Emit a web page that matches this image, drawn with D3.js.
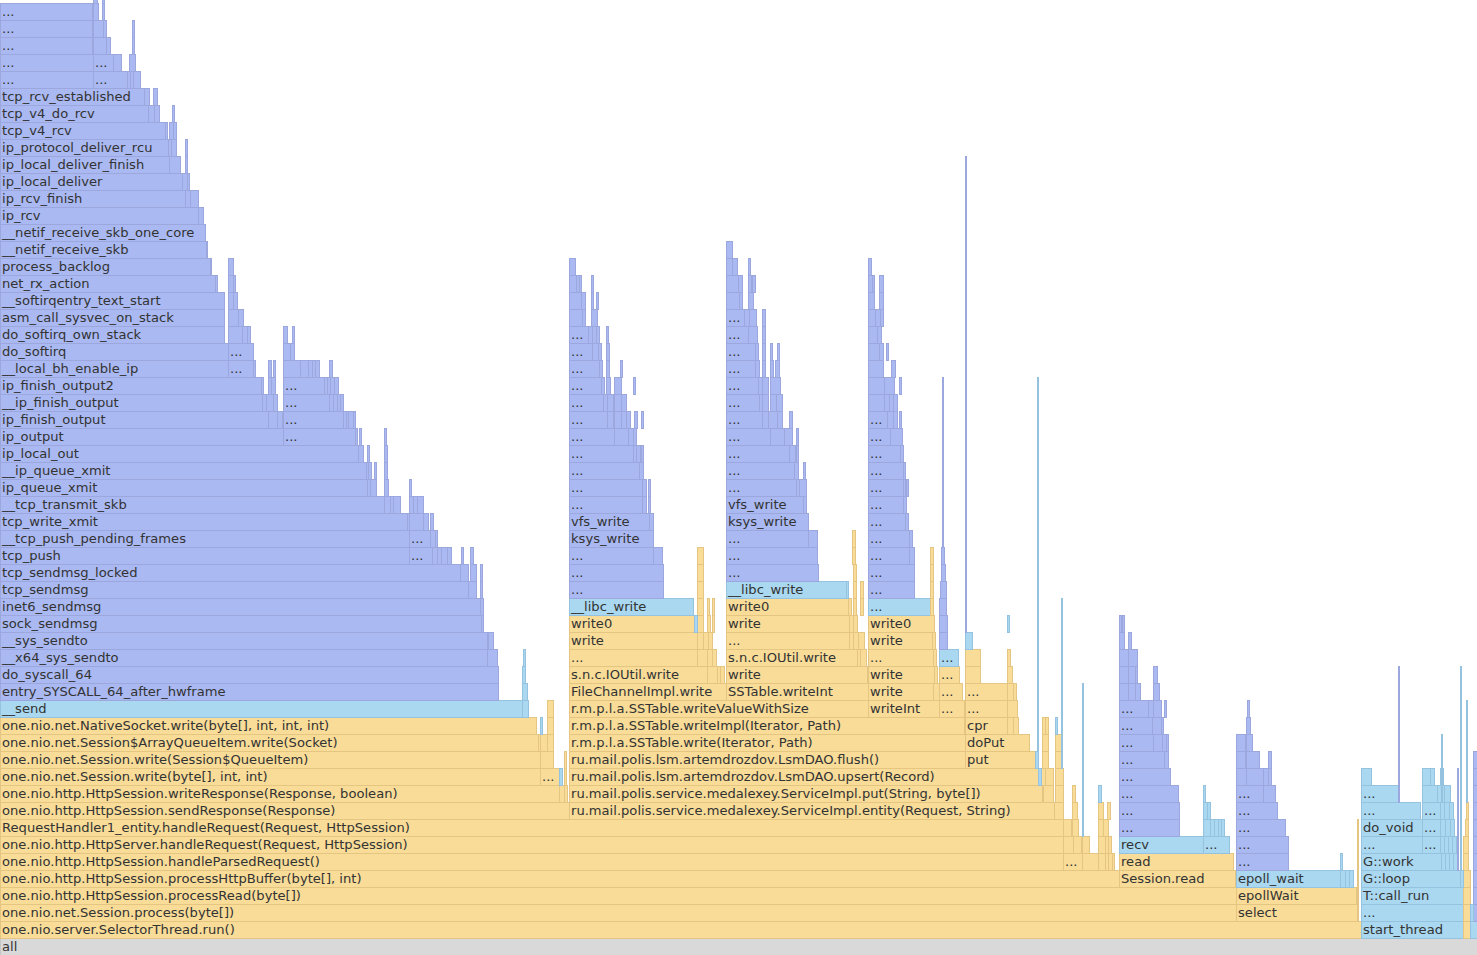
<!DOCTYPE html>
<html><head><meta charset="utf-8">
<script src="https://cdn.jsdelivr.net/npm/d3@7"></script>
<style>html,body{margin:0;padding:0;background:#fff;overflow:hidden}svg{display:block}</style>
</head><body>
<svg id="fg" width="1477" height="955"></svg>
<script>
// ---- DATA (sample counts; each frame: [level, startSample, samples, name]) ----
const TOTAL_SAMPLES = 1477;

const rootFrames = [[0, 0, 1477, "all"]];

const javaFrames = [
[1,0,1361,"one.nio.server.SelectorThread.run()"],[1,1463,7],
[2,0,1236,"one.nio.net.Session.process(byte[])"],[2,1236,121,"select"],[2,1463,7],
[3,0,1236,"one.nio.http.HttpSession.processRead(byte[])"],[3,1236,120,"epollWait"],[3,1463,7],
[4,0,1119,"one.nio.http.HttpSession.processHttpBuffer(byte[], int)"],[4,1119,116,"Session.read"],[4,1463,7],
[5,0,1063,"one.nio.http.HttpSession.handleParsedRequest()"],[5,1063,19,"..."],[5,1082,16],[5,1098,7],[5,1105,3],[5,1108,4],[5,1112,2],[5,1119,114,"read"],[5,1463,5],
[6,0,1063,"one.nio.http.HttpServer.handleRequest(Request, HttpSession)"],[6,1063,10],[6,1073,8],[6,1082,7],[6,1098,7],[6,1105,3],[6,1108,3],[6,1463,5],
[7,0,1063,"RequestHandler1_entity.handleRequest(Request, HttpSession)"],[7,1063,8],[7,1072,6],[7,1098,5],[7,1103,5],[7,1465,3],
[8,0,569,"one.nio.http.HttpSession.sendResponse(Response)"],[8,569,485,"ru.mail.polis.service.medalexey.ServiceImpl.entity(Request, String)"],[8,1054,9],[8,1072,5],[8,1098,5],[8,1107,3],[8,1466,2],
[9,0,559,"one.nio.http.HttpSession.writeResponse(Response, boolean)"],[9,559,5],[9,564,3],[9,569,473,"ru.mail.polis.service.medalexey.ServiceImpl.put(String, byte[])"],[9,1043,10],[9,1055,8],[9,1072,3],
[10,0,540,"one.nio.net.Session.write(byte[], int, int)"],[10,540,19,"..."],[10,564,2],[10,569,469,"ru.mail.polis.lsm.artemdrozdov.LsmDAO.upsert(Record)"],[10,1041,4],[10,1045,8],[10,1055,8],
[11,0,540,"one.nio.net.Session.write(Session$QueueItem)"],[11,540,13],[11,564,2],[11,569,396,"ru.mail.polis.lsm.artemdrozdov.LsmDAO.flush()"],[11,965,70,"put"],[11,1042,6],[11,1055,7],
[12,0,538,"one.nio.net.Session$ArrayQueueItem.write(Socket)"],[12,538,2],[12,540,7],[12,547,6],[12,569,396,"r.m.p.l.a.SSTable.write(Iterator, Path)"],[12,965,64,"doPut"],[12,1042,6],[12,1055,7],
[13,0,536,"one.nio.net.NativeSocket.write(byte[], int, int, int)"],[13,547,6],[13,569,395,"r.m.p.l.a.SSTable.writeImpl(Iterator, Path)"],[13,965,42,"cpr"],[13,1007,6],[13,1013,5],[13,1042,3],[13,1045,3],
[14,547,6],[14,569,299,"r.m.p.l.a.SSTable.writeValueWithSize"],[14,868,71,"writeInt"],[14,939,25,"..."],[14,965,42,"..."],[14,1007,10],
[15,569,157,"FileChannelImpl.write"],[15,726,142,"SSTable.writeInt"],[15,868,65,"write"],[15,933,6],[15,939,23,"..."],[15,965,42,"..."],[15,1007,6],[15,1013,3],
[16,569,138,"s.n.c.IOUtil.write"],[16,707,10],[16,717,3],[16,720,4],[16,726,141,"write"],[16,868,66,"write"],[16,934,3],[16,939,20,"..."],[16,965,15],[16,1007,5],
[17,569,128,"..."],[17,697,10],[17,707,5],[17,712,4],[17,726,131,"s.n.c.IOUtil.write"],[17,857,3],[17,860,6],[17,868,65,"..."],[17,933,3],[17,965,15],[17,1007,3],
[18,569,128,"write"],[18,697,6],[18,703,5],[18,708,4],[18,726,123,"..."],[18,849,4],[18,853,5],[18,858,6],[18,868,64,"write"],[18,932,3],
[19,569,125,"write0"],[19,697,6],[19,707,3],[19,712,2],[19,726,123,"write"],[19,849,4],[19,853,4],[19,868,66,"write0"],
[20,697,6],[20,707,2],[20,712,2],[20,726,122,"write0"],[20,848,3],[20,853,3],[20,860,3],[20,930,3],
[21,697,6],[21,853,3],[21,860,3],[21,930,3],
[22,697,6],[22,853,3],[22,930,3],
[23,697,6],[23,852,3],[23,930,3],
[24,852,3]
];

const nativeFrames = [
[14,0,522,"__send"],[14,522,6],[15,522,5],[16,522,3],[17,523,2],
[10,559,3],[13,540,2],[19,694,3],
[20,569,124,"__libc_write"],[21,726,120,"__libc_write"],[21,846,2],
[20,868,62,"..."],[17,939,19,"..."],
[18,965,7],[19,1007,2],[10,1038,3],[11,1035,3],[13,1055,2],[9,1098,3],
[6,1119,84,"recv"],[6,1203,26,"..."],[7,1203,7],[7,1210,4],[7,1214,4],[7,1218,3],[7,1221,3],[8,1203,4],[8,1207,3],[9,1203,2],
[4,1236,104,"epoll_wait"],[4,1340,5],[4,1345,4],[4,1349,4],[5,1340,2],
[1,1361,102,"start_thread"],[1,1470,7],
[2,1361,102,"..."],[2,1470,3],
[3,1361,102,"T::call_run"],
[4,1361,99,"G::loop"],[4,1460,3],
[5,1361,80,"G::work"],[5,1441,4],[5,1445,4],[5,1449,4],[5,1453,4],
[6,1361,61,"..."],[6,1422,18,"..."],[6,1440,4],[6,1444,4],[6,1448,4],[6,1452,4],
[7,1361,61,"do_void"],[7,1422,18,"..."],[7,1440,5],[7,1445,5],[7,1450,4],
[8,1361,59,"..."],[8,1422,18,"..."],[8,1440,4],[8,1444,5],[8,1449,4],
[9,1361,37,"..."],[9,1422,15],[9,1437,7],[9,1444,6],
[10,1361,10],[10,1422,8],[10,1430,4],[10,1440,3]
];

const kernelFrames = [
// send path (left tower)
[15,0,498,"entry_SYSCALL_64_after_hwframe"],
[16,0,498,"do_syscall_64"],
[17,0,487,"__x64_sys_sendto"],[17,487,10],
[18,0,487,"__sys_sendto"],[18,488,5],
[19,0,481,"sock_sendmsg"],[19,481,2],
[20,0,480,"inet6_sendmsg"],[20,480,3],
[21,0,468,"tcp_sendmsg"],[21,468,8],[21,480,2],
[22,0,460,"tcp_sendmsg_locked"],[22,460,8],[22,470,6],[22,480,2],
[23,0,409,"tcp_push"],[23,409,23,"..."],[23,432,5],[23,437,4],[23,441,6],[23,447,4],[23,461,2],[23,470,3],
[24,0,409,"__tcp_push_pending_frames"],[24,409,21,"..."],[24,430,5],[24,435,2],
[25,0,407,"tcp_write_xmit"],[25,407,2],[25,409,14],[25,423,5],[25,430,3],
[26,0,384,"__tcp_transmit_skb"],[26,384,6],[26,390,3],[26,393,7],[26,409,4],[26,413,4],[26,417,6],
[27,0,367,"ip_queue_xmit"],[27,367,3],[27,370,6],[27,384,4],[27,409,2],
[28,0,366,"__ip_queue_xmit"],[28,366,2],[28,368,3],[28,374,2],[28,384,3],
[29,0,358,"ip_local_out"],[29,358,5],[29,367,2],[29,384,3],
[30,0,283,"ip_output"],[30,283,72,"..."],[30,355,2],[30,359,2],[30,384,2],
[31,0,268,"ip_finish_output"],[31,268,9],[31,277,5],[31,283,60,"..."],[31,343,3],[31,346,2],[31,348,5],[31,353,2],
[32,0,262,"__ip_finish_output"],[32,262,4],[32,266,7],[32,273,4],[32,283,46,"..."],[32,329,4],[32,333,4],[32,337,3],[32,340,3],
[33,0,261,"ip_finish_output2"],[33,261,2],[33,268,3],[33,271,4],[33,283,41,"..."],[33,324,3],[33,327,3],[33,330,4],[33,334,4],
[34,0,228,"__local_bh_enable_ip"],[34,228,25,"..."],[34,253,2],[34,268,3],[34,273,2],[34,283,17],[34,300,8],[34,308,4],[34,312,3],[34,315,4],[34,329,3],
[35,0,228,"do_softirq"],[35,228,25,"..."],[35,283,7],[35,290,4],
[36,0,224,"do_softirq_own_stack"],[36,228,14],[36,242,5],[36,247,3],[36,283,4],[36,292,2],
[37,0,224,"asm_call_sysvec_on_stack"],[37,228,10],[37,238,5],
[38,0,224,"__softirqentry_text_start"],[38,228,5],[38,233,4],
[39,0,215,"net_rx_action"],[39,215,2],[39,228,5],[39,233,2],
[40,0,210,"process_backlog"],[40,210,1],[40,228,5],
[41,0,206,"__netif_receive_skb"],[41,206,1],
[42,0,205,"__netif_receive_skb_one_core"],
[43,0,198,"ip_rcv"],[43,198,5],
[44,0,185,"ip_rcv_finish"],[44,185,5],[44,190,8],
[45,0,182,"ip_local_deliver"],[45,182,5],[45,187,2],
[46,0,169,"ip_local_deliver_finish"],[46,169,11],[46,185,2],
[47,0,168,"ip_protocol_deliver_rcu"],[47,168,3],[47,171,5],[47,185,2],
[48,0,165,"tcp_v4_rcv"],[48,165,2],[48,169,4],[48,173,3],
[49,0,148,"tcp_v4_do_rcv"],[49,148,6],[49,154,5],[49,172,2],
[50,0,144,"tcp_rcv_established"],[50,144,5],[50,153,4],
[51,0,93,"..."],[51,93,34,"..."],[51,127,3],[51,130,3],[51,133,7],
[52,0,93,"..."],[52,93,20,"..."],[52,113,8],[52,129,6],
[53,0,92,"..."],[53,93,13],[53,106,4],[53,132,2],
[54,0,92,"..."],[54,93,10],[54,103,3],[54,132,2],
[55,0,92,"..."],[55,93,5],[55,102,2],
[56,93,4],[56,102,2],
// FileChannel write tower
[21,569,94,"..."],[22,569,94,"..."],[23,569,84,"..."],[23,653,9],
[24,569,84,"ksys_write"],[25,569,80,"vfs_write"],[25,649,4],
[26,569,73,"..."],[26,642,4],[26,648,2],
[27,569,73,"..."],[27,642,4],[27,648,2],
[28,569,70,"..."],[28,639,4],
[29,569,64,"..."],[29,633,3],[29,636,4],[29,641,2],
[30,569,45,"..."],[30,614,14],[30,628,5],[30,633,3],
[31,569,38,"..."],[31,607,6],[31,614,7],[31,621,5],[31,626,4],[31,634,3],[31,641,2],
[32,569,34,"..."],[32,603,4],[32,607,6],[32,614,7],[32,621,5],
[33,569,32,"..."],[33,601,3],[33,606,4],[33,614,7],[33,633,2],
[34,569,30,"..."],[34,599,3],[34,606,3],[34,620,2],
[35,569,23,"..."],[35,592,6],[35,598,3],[35,606,3],
[36,569,19,"..."],[36,588,4],[36,592,4],[36,596,3],[36,606,2],
[37,569,13],[37,582,3],[37,591,6],
[38,569,12],[38,581,4],[38,591,2],[38,596,2],
[39,569,7],[39,576,3],[39,579,2],[39,591,2],
[40,569,6],
// SSTable.writeInt tower
[22,726,92,"..."],[23,726,91,"..."],[24,726,82,"..."],[24,808,9],
[25,726,82,"ksys_write"],[26,726,77,"vfs_write"],[26,803,3],
[27,726,70,"..."],[27,796,3],[27,799,7],
[28,726,68,"..."],[28,794,4],[28,803,2],
[29,726,63,"..."],[29,789,6],[29,796,2],
[30,726,44,"..."],[30,770,14],[30,784,8],[30,796,2],
[31,726,36,"..."],[31,762,6],[31,768,9],[31,777,5],[31,789,3],
[32,726,33,"..."],[32,759,3],[32,762,6],[32,770,6],[32,776,6],
[33,726,32,"..."],[33,758,4],[33,762,6],[33,770,10],
[34,726,29,"..."],[34,755,4],[34,762,3],[34,770,3],[34,775,4],
[35,726,29,"..."],[35,755,3],[35,762,3],[35,770,2],[35,777,2],
[36,726,22,"..."],[36,748,9],[36,762,3],
[37,726,18,"..."],[37,744,5],[37,749,7],[37,762,3],
[38,726,13],[38,739,3],[38,748,5],
[39,726,12],[39,738,4],[39,748,3],[39,752,3],
[40,726,6],[40,732,5],[40,748,2],
[41,726,6],
// writeInt tower
[21,868,46,"..."],[22,868,46,"..."],[23,868,41,"..."],[23,909,5],[24,868,41,"..."],[24,909,3],
[25,868,37,"..."],[25,905,3],[26,868,35,"..."],[26,903,3],
[27,868,35,"..."],[27,903,2],[27,906,2],
[28,868,35,"..."],[28,903,2],
[29,868,32,"..."],[29,900,3],
[30,868,22,"..."],[30,890,12],
[31,868,19,"..."],[31,887,6],[31,893,4],[31,899,2],
[32,868,16],[32,884,5],[32,889,4],[32,893,4],
[33,868,16],[33,884,10],[33,899,2],
[34,868,15],[34,891,4],
[35,868,11],[35,879,4],[35,886,2],
[36,868,9],[36,877,4],
[37,868,7],[37,875,5],[37,880,3],
[38,868,6],[38,879,4],
[39,868,4],[39,872,2],[39,879,4],
[40,868,3],
[18,939,8],[19,939,8],[20,939,7],[21,940,6],[22,941,4],[23,941,3],
// recv tower
[7,1119,60,"..."],[8,1119,60,"..."],[9,1119,59,"..."],[10,1119,51,"..."],
[11,1119,45,"..."],[11,1164,4],
[12,1119,34,"..."],[12,1153,9],[12,1162,4],[12,1166,2],
[13,1119,33,"..."],[13,1152,9],[13,1161,2],
[14,1119,29,"..."],[14,1148,5],[14,1153,8],[14,1164,2],
[15,1119,9],[15,1128,7],[15,1135,5],[15,1153,6],
[16,1119,9],[16,1128,7],[16,1135,2],[16,1153,4],
[17,1119,9],[17,1128,9],
[18,1119,5],[18,1128,3],
[19,1119,2],[19,1122,2],
// epoll tower
[5,1236,52,"..."],[6,1236,52,"..."],[7,1236,49,"..."],[8,1236,41,"..."],
[9,1236,27,"..."],[9,1263,12],
[10,1236,10],[10,1246,17],[10,1263,5],[10,1268,3],
[11,1236,9],[11,1246,13],[11,1268,3],
[12,1236,9],[12,1246,6],[13,1246,4],[14,1247,2]
];

// deep one-sample call chains: [fromLevel, toLevel, startSample, samples]
const kernelChains = [[19,46,965,1],[24,33,942,1],[9,16,1398,1],[5,10,1457,1],[2,11,1473,4]];
const nativeChains = [[12,33,1037,1],[11,20,1061,1],[7,15,1082,1],[5,16,1460,1],[9,14,1466,1],[9,12,1441,1]];
const javaChains   = [[2,7,1357,1]];

// ---- STYLES ----
const palette = {
  root:   {fill:"#d9d9d9", stroke:"#c6c6c6"},
  java:   {fill:"#f8dc98", stroke:"#e4c682"},
  native: {fill:"#a9d8f0", stroke:"#95c2de"},
  kernel: {fill:"#aab9f2", stroke:"#9ba7dd"}
};

// ---- BUILD ----
function toFrames(arr, type){ return arr.map(d => ({level:d[0], start:d[1], samples:d[2], name:d[3]||"", type})); }
function chains(arr, type){
  const out = [];
  arr.forEach(([a,b,s,w]) => { for (let l=a; l<=b; l++) out.push({level:l, start:s, samples:w, name:"", type}); });
  return out;
}
const frames = [].concat(
  toFrames(rootFrames,"root"),
  toFrames(javaFrames,"java"),
  toFrames(nativeFrames,"native"),
  toFrames(kernelFrames,"kernel"),
  chains(javaChains,"java"),
  chains(nativeChains,"native"),
  chains(kernelChains,"kernel")
);
frames.sort((a,b) => b.samples - a.samples);

const W = 1477, H = 955, ROW = 17, BASE = 938;
const x = d3.scaleLinear().domain([0, TOTAL_SAMPLES]).range([0, W]);
const y = d3.scaleLinear().domain([0, 1]).range([BASE, BASE - ROW]);

const svg = d3.select("#fg");
const g = svg.selectAll("g.frame").data(frames).join("g").attr("class","frame");

g.append("rect")
  .attr("x", d => x(d.start) + 0.5)
  .attr("y", d => y(d.level) + 0.5)
  .attr("width", d => Math.max(x(d.start + d.samples) - x(d.start), 0))
  .attr("height", ROW)
  .attr("fill", d => palette[d.type].fill)
  .attr("stroke", d => palette[d.type].stroke)
  .attr("stroke-width", 1);

g.filter(d => d.name && (x(d.start + d.samples) - x(d.start)) >= 16)
  .append("text")
  .attr("x", d => x(d.start) + 2)
  .attr("y", d => y(d.level) + 12.5)
  .attr("font-family", "'DejaVu Sans', Verdana, sans-serif")
  .attr("font-size", 13.1)
  .attr("fill", "#333")
  .text(d => d.name)
  .each(function(d){
    const maxW = x(d.start + d.samples) - x(d.start) - 3;
    let t = d.name;
    while (t.length > 0 && this.getComputedTextLength() > maxW) {
      t = t.slice(0, -1);
      this.textContent = t;
    }
  });
</script>
</body></html>
